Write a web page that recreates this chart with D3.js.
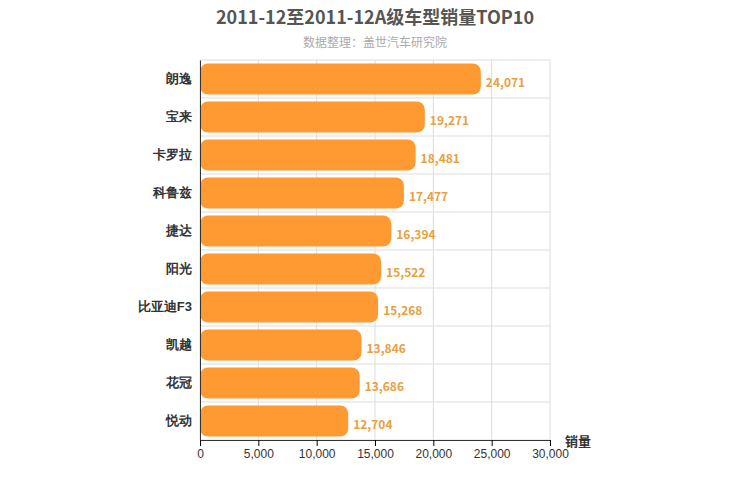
<!DOCTYPE html>
<html><head><meta charset="utf-8">
<script src="https://cdn.jsdelivr.net/npm/d3@7"></script>
<style>body{margin:0;background:#fff;font-family:"Noto Sans CJK SC","Noto Sans",sans-serif}</style>
</head><body><svg id="c" width="750" height="500"></svg>
<script>
var categories = ['朗逸','宝来','卡罗拉','科鲁兹','捷达','阳光','比亚迪F3','凯越','花冠','悦动'];
var sales = [24071,19271,18481,17477,16394,15522,15268,13846,13686,12704];
var xTicks = [0,5000,10000,15000,20000,25000,30000];

var svg = d3.select('#c');
var x = d3.scaleLinear().domain([0,30000]).range([200,550]);
var y = d3.scaleBand().domain(categories).range([60,440]).paddingInner(0.18).paddingOuter(0.09);
var fmt = d3.format(',');

// grid
svg.append('g').selectAll('line').data(xTicks).join('line')
  .attr('x1', function(d){return x(d);}).attr('x2', function(d){return x(d);})
  .attr('y1',60).attr('y2',440).attr('stroke','#ddd');
var step = y.step();
svg.append('g').selectAll('line').data(d3.range(11)).join('line')
  .attr('x1',200).attr('x2',550)
  .attr('y1', function(i){return 60 + i*step;}).attr('y2', function(i){return 60 + i*step;})
  .attr('stroke','#ddd');

// bars
svg.append('g').selectAll('rect').data(sales).join('rect')
  .attr('x', x(0)).attr('y', function(d,i){return y(categories[i]);})
  .attr('width', function(d){return x(d)-x(0);}).attr('height', y.bandwidth())
  .attr('rx',8).attr('fill','#ff9a33');

svg.append('g').selectAll('text').data(sales).join('text')
  .attr('x', function(d){return x(d)+5;})
  .attr('y', function(d,i){return y(categories[i])+y.bandwidth()/2+8;})
  .attr('font-size',12).attr('font-weight','bold').attr('fill','#e8a040').text(function(d){return fmt(d);});

// axes
var ax = svg.append('g').attr('transform','translate(0,440)')
  .call(d3.axisBottom(x).tickValues(xTicks).tickFormat(fmt).tickSizeOuter(0));
ax.select('.domain').attr('stroke','#333');
ax.selectAll('text').attr('font-size',12).attr('fill','#333');
var ay = svg.append('g').attr('transform','translate(200,0)')
  .call(d3.axisLeft(y).tickSize(0).tickPadding(8));
ay.select('.domain').attr('stroke','#333');
ay.selectAll('text').attr('font-size',13).attr('font-weight','bold').attr('fill','#333');

svg.append('text').attr('x',565).attr('y',446).attr('font-size',13).attr('font-weight','bold').attr('fill','#333').text('销量');
svg.append('text').attr('x',375).attr('y',24).attr('text-anchor','middle')
  .attr('font-size',18).attr('font-weight','bold').attr('fill','#555')
  .text('2011-12至2011-12A级车型销量TOP10');
svg.append('text').attr('x',375).attr('y',47).attr('text-anchor','middle')
  .attr('font-size',12).attr('fill','#aaa').text('数据整理：盖世汽车研究院');
</script></body></html>
